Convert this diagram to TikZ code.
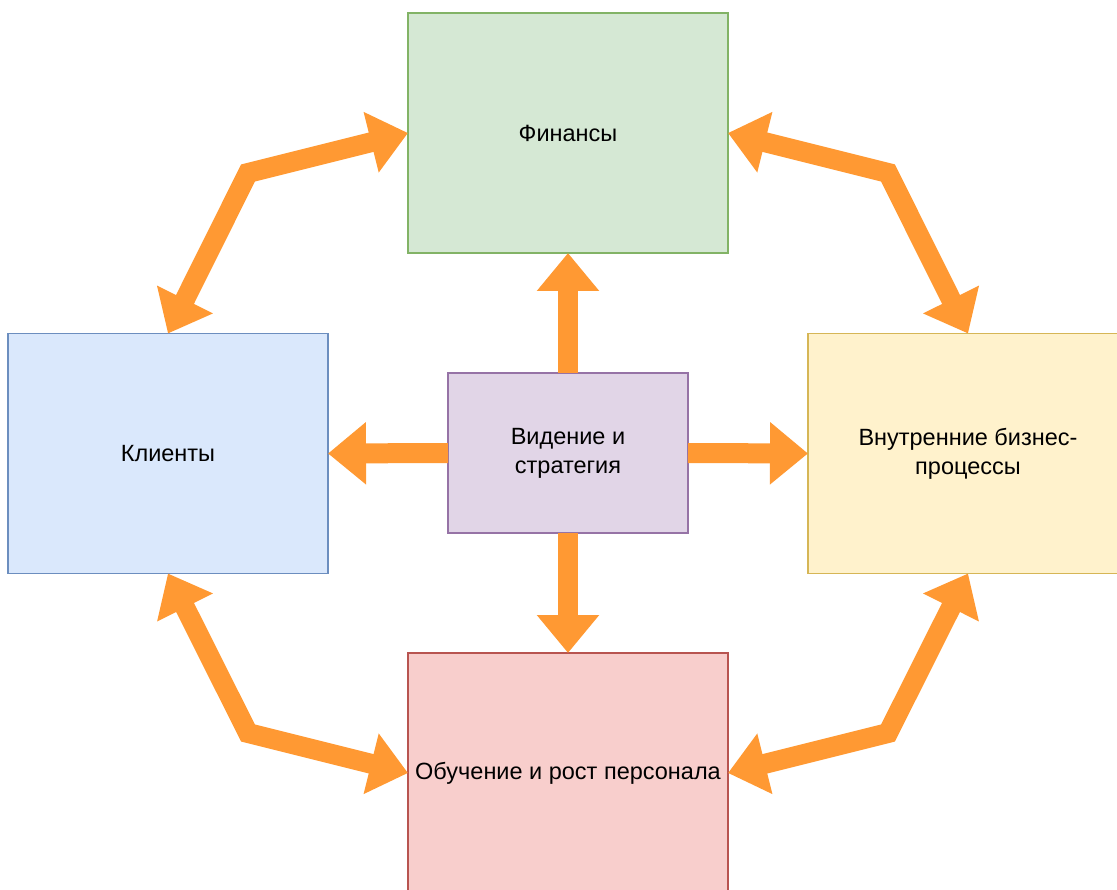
\documentclass[tikz,border=0pt]{standalone}
\usepackage{fontspec}
\setmainfont{Liberation Sans}
\usepackage{tikz}
\usetikzlibrary{arrows.meta,positioning,calc}
\definecolor{finfill}{HTML}{D5E8D4}\definecolor{findraw}{HTML}{82B366}
\definecolor{klifill}{HTML}{DAE8FC}\definecolor{klidraw}{HTML}{6C8EBF}
\definecolor{visfill}{HTML}{E1D5E7}\definecolor{visdraw}{HTML}{9673A6}
\definecolor{prcfill}{HTML}{FFF2CC}\definecolor{prcdraw}{HTML}{D6B656}
\definecolor{obufill}{HTML}{F8CECC}\definecolor{obudraw}{HTML}{B85450}
\definecolor{arroworange}{HTML}{FF9933}
\tikzset{
    every picture/.style={line width=0.5pt},
    box/.style={rectangle,draw,line width=1.5pt,outer sep=0pt,inner sep=4pt,
        align=center,font=\fontsize{23.5}{29}\selectfont},
    bigbox/.style={box,minimum width=320pt,minimum height=240pt},
    flex/.style={draw=arroworange,line width=20pt,line join=miter,
        -{Triangle[length=38pt,width=60pt]}},
    flexboth/.style={flex,{Triangle[length=38pt,width=60pt]}-{Triangle[length=38pt,width=60pt]}}
}

\begin{document}
\begin{tikzpicture}[x=1pt,y=-1pt]
        \useasboundingbox (0,0) rectangle (1117,890);
        \clip (0,0) rectangle (1117,890);

        % Perspectives
        \node[bigbox,fill=finfill,draw=findraw] (fin) at (568,133) {Финансы};
        \node[bigbox,fill=klifill,draw=klidraw] (kli) at (168,453.5) {Клиенты};
        \node[bigbox,fill=prcfill,draw=prcdraw] (prc) at (968,453.5) {Внутренние бизнес-\\процессы};
        \node[bigbox,fill=obufill,draw=obudraw] (obu) at (568,773) {Обучение и рост персонала};

        % Vision in the middle
        \node[box,fill=visfill,draw=visdraw,minimum width=240pt,minimum height=160pt] (vis) at (568,453) {Видение и\\стратегия};

        % Bends of the outer arrows
        \coordinate (b1) at (248,173);
        \coordinate (b2) at (888,173);
        \coordinate (b3) at (248,733);
        \coordinate (b4) at (888,733);

        % Arrows from the centre
        \draw[flex] (vis.north) -- (fin.south);
        \draw[flex] (vis.south) -- (obu.north);
        \draw[flex] (vis.west) -- (kli.east);
        \draw[flex] (vis.east) -- (prc.west);

        % Arrows round the ring
        \draw[flexboth] (kli.north) -- (b1) -- (fin.west);
        \draw[flexboth] (fin.east) -- (b2) -- (prc.north);
        \draw[flexboth] (kli.south) -- (b3) -- (obu.west);
        \draw[flexboth] (prc.south) -- (b4) -- (obu.east);
    \end{tikzpicture}
\end{document}
